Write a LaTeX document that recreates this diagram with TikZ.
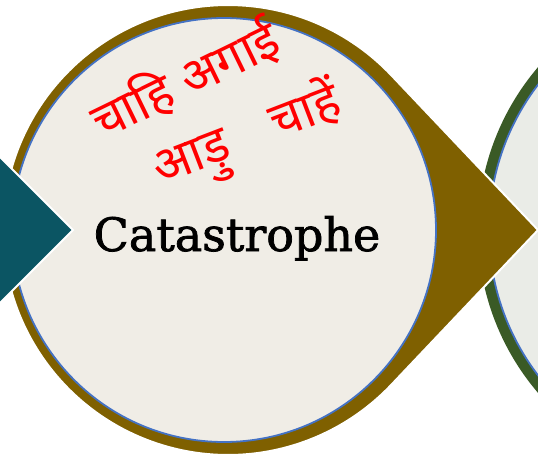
\documentclass[tikz,border=0pt]{standalone}
\usepackage{fontspec}
\setmainfont{DejaVu Serif}
\newfontfamily\titlefont[FakeBold=1.6]{DejaVu Serif}
\newfontfamily\devfont[Script=Devanagari]{Noto Sans}
\usepackage{tikz}
\usetikzlibrary{calc}

\definecolor{stageBrown}{HTML}{7F6000}
\definecolor{stageTeal}{HTML}{0B5563}
\definecolor{stageGreen}{HTML}{3A5A26}
\definecolor{paperCream}{HTML}{F0EDE6}
\definecolor{paperGrey}{HTML}{EAECE7}
\definecolor{rimBlue}{HTML}{4472C4}

\begin{document}
\begin{tikzpicture}[
  x = 1pt, y = -1pt,
  stage/.style  = {draw=white, line width=2pt, line join=miter},
  face/.style   = {draw=rimBlue, line width=1.8pt},
  title/.style  = {font=\titlefont\fontsize{46}{54}\selectfont, text=black, anchor=base},
  scrawl/.style = {font=\devfont\fontsize{50}{58}\selectfont, text=red}
]
\useasboundingbox (0,0) rectangle (538,458);
\clip (0,0) rectangle (538,458);

% ── Next stage (cut off at the right) ────────────────────────────────────────
\fill[stageGreen] (729,230) circle[radius=251];
\filldraw[face, fill=paperGrey] (729,230) circle[radius=240];

% ── Brown stage with its point ───────────────────────────────────────────────
\coordinate (c)   at (228,230);
\coordinate (tip) at (538,230);
\filldraw[stage, fill=stageBrown]
  (tip) -- ($(c)+(-43.4:225)$) arc[start angle=-43.4, end angle=-316.6, radius=225] -- cycle;
\filldraw[face, fill=paperCream] (224,230) circle[radius=212];

% ── Point of the previous stage ──────────────────────────────────────────────
\filldraw[stage, fill=stageTeal] (-20,137) -- (73,230) -- (-20,323) -- cycle;

% ── Texts ────────────────────────────────────────────────────────────────────
\node[title] (title) at (237,251) {Catastrophe};
\node[scrawl, rotate=26] (note1) at (185,80)  {चाहि\hspace{14pt}अगाई};
\node[scrawl, rotate=21] (note2) at (248,138) {आड़ु\hspace{48pt}चाहें};

\end{tikzpicture}
\end{document}
